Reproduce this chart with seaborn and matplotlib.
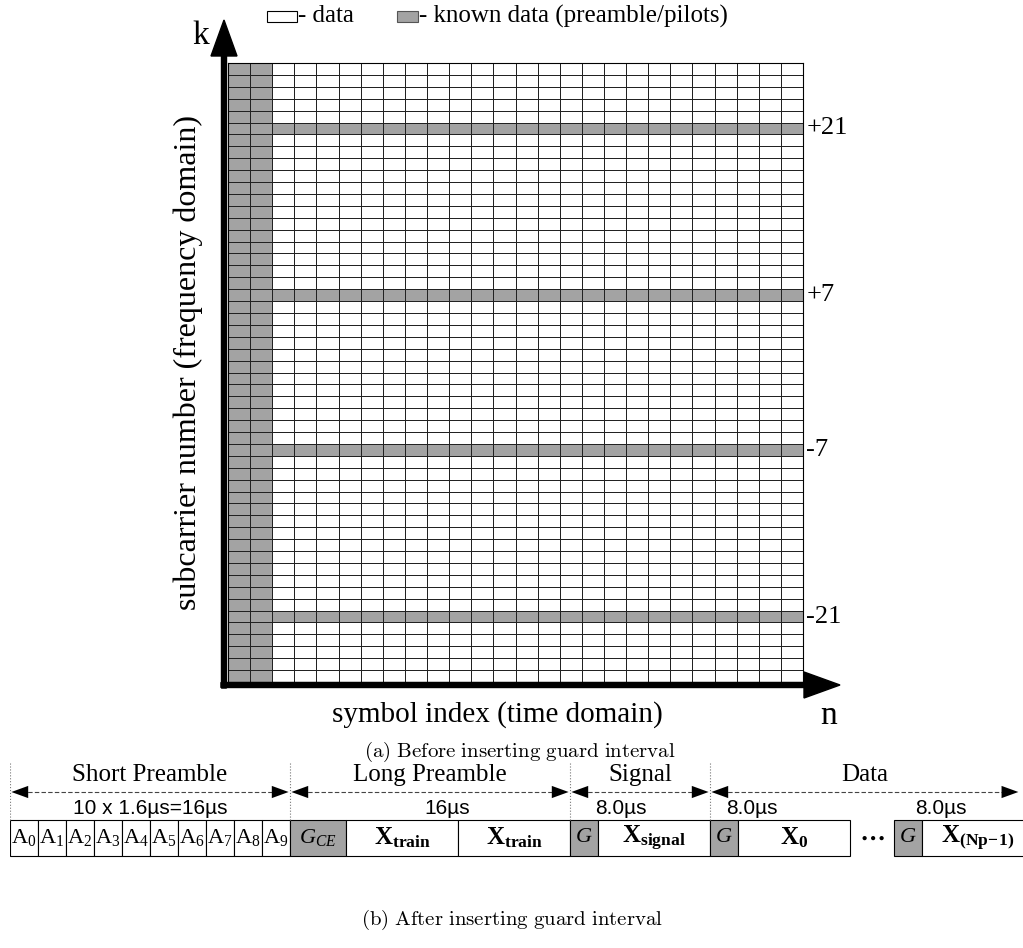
import numpy as np
import pandas as pd
import matplotlib
matplotlib.use('Agg')
import matplotlib.pyplot as plt
import seaborn as sns
from matplotlib.colors import ListedColormap
from matplotlib.patches import Rectangle

# ---------------- data ----------------
subcarriers = list(range(26, 0, -1)) + list(range(-1, -27, -1))   # k, top to bottom
pilot_subcarriers = [21, 7, -7, -21]
pilot_labels = ['+21', '+7', '-7', '-21']
n_symbols = 26
preamble_symbols = 2

short_names = [str(i) for i in range(10)]
short_dur = [1.6] * 10
seg_labels = [r'$G_{CE}$', r'$\mathbf{X}_{\mathbf{train}}$', r'$\mathbf{X}_{\mathbf{train}}$',
              r'$G$', r'$\mathbf{X}_{\mathbf{signal}}$', r'$G$', r'$\mathbf{X}_{\mathbf{0}}$',
              r'$\mathbf{\cdots}$', r'$G$', r'$\mathbf{X}_{\mathbf{(Np\!-\!1)}}$']
seg_dur = [3.2, 6.4, 6.4, 1.6, 6.4, 1.6, 6.4, 2.5, 1.6, 6.4]
seg_kind = ['guard', 'sym', 'sym', 'guard', 'sym', 'guard', 'sym', 'gap', 'guard', 'sym']
section_names = ['Short Preamble', 'Long Preamble', 'Signal', 'Data']
section_bounds = [0, 16, 32, 40, 57.7]
duration_labels = ['10 x 1.6\u00b5s=16\u00b5s', '16\u00b5s', '8.0\u00b5s', '8.0\u00b5s', '8.0\u00b5s']
duration_pos = [8.0, 25.0, 34.9, 42.4, 53.2]

GRAY = '#a3a3a3'
SERIF = 'Liberation Serif'

plt.rcParams['mathtext.fontset'] = 'custom'
plt.rcParams['mathtext.rm'] = SERIF
plt.rcParams['mathtext.it'] = SERIF + ':italic'
plt.rcParams['mathtext.bf'] = SERIF + ':bold'
plt.rcParams['font.family'] = [SERIF, 'DejaVu Sans']

W, H = 1023, 948
fig = plt.figure(figsize=(W / 100, H / 100), dpi=100)

# ---------------- grid (a) ----------------
known = np.zeros((len(subcarriers), n_symbols))
known[:, :preamble_symbols] = 1
for k in pilot_subcarriers:
    known[subcarriers.index(k), :] = 1
df = pd.DataFrame(known, index=subcarriers, columns=range(n_symbols))

gx0, gx1, gy0, gy1 = 228, 803, 63, 682
axg = fig.add_axes([gx0 / W, 1 - gy1 / H, (gx1 - gx0) / W, (gy1 - gy0) / H])
sns.heatmap(df, ax=axg, cmap=ListedColormap(['white', GRAY]), vmin=0, vmax=1,
            cbar=False, linewidths=0.55, linecolor='#222222',
            xticklabels=False, yticklabels=False)
axg.set_xlabel('')
axg.set_ylabel('')
for sp in axg.spines.values():
    sp.set_visible(True)
    sp.set_linewidth(0.8)
for lab, k in zip(pilot_labels, pilot_subcarriers):
    r = subcarriers.index(k)
    axg.text(n_symbols + 0.15, r + 0.5, lab, ha='left', va='center',
             fontsize=19, family=SERIF, clip_on=False)

# ---------------- overlay (pixel coords) ----------------
ax = fig.add_axes([0, 0, 1, 1])
ax.set_xlim(0, W)
ax.set_ylim(H, 0)
ax.axis('off')

ax.arrow(224, 688, 0, -668, width=5, head_width=26, head_length=36,
         length_includes_head=True, fc='black', ec='black')
ax.arrow(221, 685, 619, 0, width=5, head_width=26, head_length=36,
         length_includes_head=True, fc='black', ec='black')
ax.text(201, 36, 'k', fontsize=24, ha='center', va='center', family=SERIF)
ax.text(829, 716, 'n', fontsize=24, ha='center', va='center', family=SERIF)
ax.text(497, 715, 'symbol index (time domain)', fontsize=21, ha='center', va='center', family=SERIF)
ax.text(188, 362, 'subcarrier number (frequency domain)', fontsize=23, rotation=90,
        ha='center', va='center', family=SERIF)

# legend
ax.add_patch(Rectangle((267, 11), 30, 11, fc='white', ec='black', lw=0.8))
ax.text(298, 16, '- data', fontsize=18, va='center', ha='left', family=SERIF)
ax.add_patch(Rectangle((397, 11), 21, 11, fc=GRAY, ec='#555555', lw=0.8))
ax.text(419, 16, '- known data (preamble/pilots)', fontsize=18, va='center', ha='left', family=SERIF)

ax.text(520, 752, r'$\mathrm{(a)\ Before\ inserting\ guard\ interval}$', fontsize=15,
        ha='center', va='center', math_fontfamily='cm')
ax.text(512, 920, r'$\mathrm{(b)\ After\ inserting\ guard\ interval}$', fontsize=15,
        ha='center', va='center', math_fontfamily='cm')

# ---------------- timeline (b) ----------------
px_per_us = 17.5
tx0 = 10
axt = fig.add_axes([tx0 / W, 0, (W - tx0) / W, 1])
axt.set_xlim(0, (W - tx0) / px_per_us)
axt.set_ylim(H, 0)
axt.axis('off')

box_y, box_h = 838, 36
short_left = np.concatenate([[0], np.cumsum(short_dur)[:-1]])
axt.barh(box_y, short_dur, left=short_left, height=box_h, color='white',
         edgecolor='black', linewidth=0.8)
for nm, l, d in zip(short_names, short_left, short_dur):
    axt.text(l + d / 2, box_y, r'$\mathrm{A}_{\mathrm{%s}}$' % nm, fontsize=16,
             ha='center', va='center')

seg_left = sum(short_dur) + np.concatenate([[0], np.cumsum(seg_dur)[:-1]])
for lab, l, d, kind in zip(seg_labels, seg_left, seg_dur, seg_kind):
    if kind != 'gap':
        axt.barh(box_y, d, left=l, height=box_h,
                 color=GRAY if kind == 'guard' else 'white',
                 edgecolor='black', linewidth=0.8)
    fs = 16 if kind == 'guard' else 18
    axt.text(l + d / 2, box_y, lab, fontsize=fs, ha='center', va='center')

for nm, a, b in zip(section_names, section_bounds[:-1], section_bounds[1:]):
    axt.hlines(792, a + 0.6, b - 0.6, colors='#444444', linestyles=(0, (4, 2)), lw=0.8)
    axt.annotate('', xy=(b, 792), xytext=(a, 792),
                 arrowprops=dict(arrowstyle='<|-|>,head_length=0.55,head_width=0.2',
                                 color='black', lw=0.0,
                                 mutation_scale=22, shrinkA=1, shrinkB=1))
    axt.text((a + b) / 2, 775, nm, fontsize=18, ha='center', va='center', family=SERIF)
axt.vlines(section_bounds[:-1], 763, 820, colors='#777777', linestyles=':', lw=0.8)

for lab, x in zip(duration_labels, duration_pos):
    axt.text(x, 808, lab, fontsize=15, ha='center', va='center', family='Liberation Sans')

fig.savefig('out.png', dpi=100)
